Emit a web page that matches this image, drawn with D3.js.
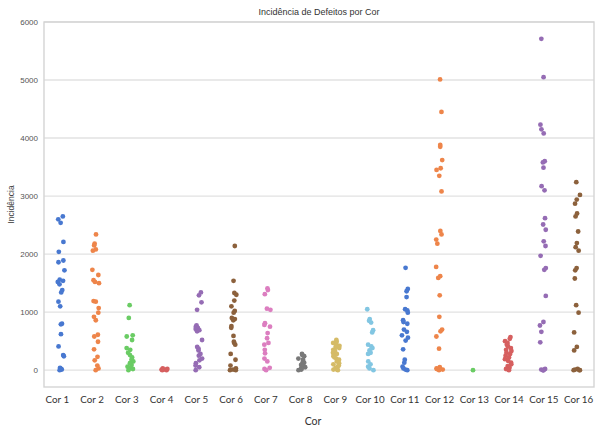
<!DOCTYPE html>
<html>
<head>
<meta charset="utf-8">
<script src="https://cdn.jsdelivr.net/npm/d3@7/dist/d3.min.js"></script>
<style>
  html, body { margin: 0; padding: 0; background: #ffffff; }
  svg { display: block; }
</style>
</head>
<body>
<svg id="chart" width="595" height="426"></svg>
<script>
// Categorias (cores) e incidência de defeitos observada em cada uma
const categorias = ["Cor 1", "Cor 2", "Cor 3", "Cor 4", "Cor 5", "Cor 6", "Cor 7", "Cor 8",
                    "Cor 9", "Cor 10", "Cor 11", "Cor 12", "Cor 13", "Cor 14", "Cor 15", "Cor 16"];

const cor1  = [2650, 2600, 2540, 2210, 2040, 1890, 1860, 1720, 1560, 1540, 1520, 1480, 1380,
               1340, 1180, 1100, 800, 790, 620, 410, 260, 240, 40, 20, 10, 0];
const cor2  = [2340, 2180, 2150, 2080, 2060, 1730, 1640, 1550, 1520, 1500, 1190, 1180, 1070,
               990, 920, 860, 610, 580, 490, 360, 230, 170, 80, 30, 0];
const cor3  = [1120, 900, 600, 580, 520, 380, 350, 300, 260, 220, 180, 150, 120, 90, 60, 40, 20, 0];
const cor4  = [30, 20, 10, 10, 0, 0];
const cor5  = [1340, 1290, 1170, 1040, 770, 750, 730, 710, 690, 670, 520, 400, 370, 340, 280,
               250, 200, 170, 120, 80, 50, 0];
const cor6  = [2140, 1540, 1330, 1300, 1200, 1100, 1020, 990, 900, 880, 860, 760, 730, 590,
               490, 470, 440, 280, 180, 80, 30, 10, 0, 0];
const cor7  = [1410, 1380, 1310, 1060, 1040, 810, 780, 750, 640, 550, 470, 440, 350, 290, 200,
               150, 40, 20, 0];
const cor8  = [280, 260, 240, 200, 180, 150, 130, 110, 90, 70, 50, 30, 20, 10, 0];
const cor9  = [520, 490, 470, 450, 420, 400, 380, 350, 330, 300, 280, 260, 240, 220, 200, 180,
               150, 120, 100, 80, 60, 40, 20, 10, 0];
const cor10 = [1050, 880, 850, 820, 690, 650, 440, 410, 380, 340, 300, 280, 150, 100, 60, 30, 0];
const cor11 = [1764, 1400, 1360, 1260, 1050, 1030, 990, 860, 830, 800, 700, 660, 600, 560, 510,
               360, 180, 130, 60, 30, 10, 0];
const cor12 = [5010, 4450, 3880, 3850, 3620, 3480, 3450, 3350, 3080, 2400, 2340, 2250, 2180,
               1780, 1620, 1590, 1290, 920, 700, 670, 580, 370, 50, 30, 20, 10, 0];
const cor13 = [0];
const cor14 = [570, 540, 500, 470, 440, 410, 380, 350, 330, 300, 280, 250, 220, 190, 160, 130,
               100, 70, 40, 20, 0];
const cor15 = [5710, 5050, 4230, 4150, 4080, 3600, 3580, 3490, 3170, 3100, 2620, 2510, 2420,
               2220, 2140, 1970, 1760, 1730, 1280, 830, 770, 660, 480, 20, 10, 0, 0, 0];
const cor16 = [3240, 3020, 2940, 2870, 2700, 2650, 2390, 2190, 2120, 2060, 1760, 1720, 1580,
               1120, 990, 650, 400, 340, 20, 10, 0, 0, 0];

const valoresPorCor = [cor1, cor2, cor3, cor4, cor5, cor6, cor7, cor8,
                       cor9, cor10, cor11, cor12, cor13, cor14, cor15, cor16];

const yTicks = [0, 1000, 2000, 3000, 4000, 5000, 6000];

// Paleta "muted" (10 cores, repetida a partir da 11ª categoria)
const paleta = ["#4878d0", "#ee854a", "#6acc64", "#d65f5f", "#956cb4",
                "#8c613c", "#dc7ec0", "#797979", "#d5bb67", "#82c6e2"];

// Área de plotagem
const plot = { left: 44, right: 594, top: 22, bottom: 387 };

const svg = d3.select("#chart");

const x = d3.scaleBand()
  .domain(categorias)
  .range([plot.left, plot.right])
  .paddingInner(0).paddingOuter(0);

// Escala usada apenas para os rótulos das categorias
const xRotulos = d3.scaleBand()
  .domain(categorias)
  .range([40, 596])
  .paddingInner(0).paddingOuter(0);

const y = d3.scaleLinear()
  .domain([-290, 6000])
  .range([plot.bottom, plot.top]);

// Linhas de grade horizontais
svg.append("g")
  .selectAll("line")
  .data(yTicks)
  .join("line")
  .attr("x1", plot.left)
  .attr("x2", plot.right)
  .attr("y1", d => y(d))
  .attr("y2", d => y(d))
  .attr("stroke", "#e2e2e2")
  .attr("stroke-width", 1.4);

// Moldura
svg.append("rect")
  .attr("x", plot.left)
  .attr("y", plot.top)
  .attr("width", plot.right - plot.left)
  .attr("height", plot.bottom - plot.top)
  .attr("fill", "none")
  .attr("stroke", "#d4d4d4")
  .attr("stroke-width", 1.4);

// Eixo Y
const eixoY = svg.append("g")
  .attr("transform", `translate(${plot.left},0)`)
  .call(d3.axisLeft(y).tickValues(yTicks).tickSize(0).tickPadding(6).tickFormat(d3.format("d")));
eixoY.select(".domain").remove();
eixoY.selectAll("text")
  .attr("font-family", "'Liberation Sans', Arial, sans-serif")
  .attr("font-size", 8)
  .attr("fill", "#555555");

// Eixo X (rótulos das categorias)
const eixoX = svg.append("g")
  .attr("transform", `translate(0,${plot.bottom})`)
  .call(d3.axisBottom(xRotulos).tickSize(0).tickPadding(9));
eixoX.select(".domain").remove();
eixoX.selectAll("text")
  .attr("font-family", "Lato, 'Open Sans', sans-serif")
  .attr("font-size", 9.8)
  .attr("fill", "#333333");

// Deslocamento horizontal determinístico para separar os pontos
function deslocamento(i, j) {
  const h = Math.sin((i + 1) * 12.9898 + (j + 1) * 78.233) * 43758.5453;
  return (h - Math.floor(h)) - 0.5;
}

const pontos = [];
valoresPorCor.forEach((valores, i) => {
  valores.forEach((v, j) => pontos.push({ cat: categorias[i], i, j, v }));
});

svg.append("g")
  .selectAll("circle")
  .data(pontos)
  .join("circle")
  .attr("cx", d => x(d.cat) + x.bandwidth() / 2 + deslocamento(d.i, d.j) * 0.2 * x.bandwidth())
  .attr("cy", d => y(d.v))
  .attr("r", 2.4)
  .attr("fill", d => paleta[d.i % paleta.length]);

// Título
svg.append("text")
  .attr("x", (plot.left + plot.right) / 2)
  .attr("y", 15)
  .attr("text-anchor", "middle")
  .attr("font-family", "'Liberation Sans', Arial, sans-serif")
  .attr("font-size", 9)
  .attr("fill", "#333333")
  .text("Incidência de Defeitos por Cor");

// Rótulo do eixo Y
svg.append("text")
  .attr("transform", `translate(14,${(plot.top + plot.bottom) / 2}) rotate(-90)`)
  .attr("text-anchor", "middle")
  .attr("font-family", "'Liberation Sans', Arial, sans-serif")
  .attr("font-size", 8.5)
  .attr("fill", "#444444")
  .text("Incidência");

// Rótulo do eixo X
svg.append("text")
  .attr("x", 313)
  .attr("y", 425)
  .attr("text-anchor", "middle")
  .attr("font-family", "Lato, 'Open Sans', sans-serif")
  .attr("font-size", 10.5)
  .attr("fill", "#333333")
  .text("Cor");
</script>
</body>
</html>
